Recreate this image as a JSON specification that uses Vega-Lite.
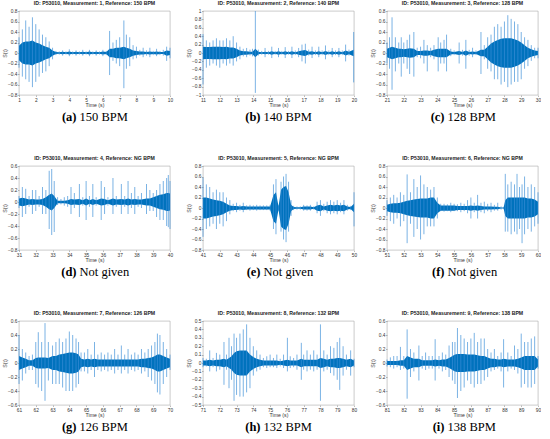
{
  "$schema": "https://vega.github.io/schema/vega-lite/v6.json",
  "padding": {"left": 1, "top": 1, "right": 0, "bottom": 0},
  "background": "white",
  "config": {
    "view": {"stroke": "#a6a6a6", "strokeWidth": 0.6},
    "axis": {"grid": false, "domain": false, "tickSize": 1.5, "tickWidth": 0.5, "tickColor": "#777", "labelFontSize": 4.8, "labelFont": "Liberation Sans", "labelColor": "#333", "labelPadding": 0.5, "labelFlush": false, "labelOverlap": false, "labelBound": false, "format": "~r", "titleFontSize": 5.2, "titleFont": "Liberation Sans", "titleFontWeight": "normal", "titleColor": "#333", "titlePadding": 0.5},
    "title": {"fontSize": 5.2, "font": "Liberation Sans", "fontWeight": "bold", "color": "#222", "offset": 1.5, "anchor": "middle"},
    "area": {"color": "#0072BD"},
    "rule": {"color": "#3a8dd6", "opacity": 0.75, "strokeWidth": 0.9}
  },
  "datasets": {
    "p1": [
      {"t":1.0,"h":0.3,"l":-0.28,"c":0.14,"d":-0.14},{"t":1.2,"h":0.45,"l":-0.45,"c":0.2,"d":-0.2},{"t":1.4,"h":0.62,"l":-0.5,"c":0.22,"d":-0.22},{"t":1.6,"h":0.5,"l":-0.55,"c":0.22,"d":-0.22},{"t":1.8,"h":0.68,"l":-0.65,"c":0.24,"d":-0.24},{"t":2.0,"h":0.55,"l":-0.55,"c":0.2,"d":-0.2},{"t":2.2,"h":0.45,"l":-0.45,"c":0.18,"d":-0.18},{"t":2.4,"h":0.35,"l":-0.38,"c":0.15,"d":-0.15},{"t":2.6,"h":0.3,"l":-0.35,"c":0.12,"d":-0.12},{"t":2.8,"h":0.22,"l":-0.25,"c":0.1,"d":-0.1},
      {"t":3.0,"h":0.1,"l":-0.12,"c":0.05,"d":-0.05},{"t":3.2,"h":0.04,"l":-0.04,"c":0.02,"d":-0.02},{"t":3.4,"h":0.03,"l":-0.03,"c":0.015,"d":-0.015},{"t":3.6,"h":0.05,"l":-0.05,"c":0.025,"d":-0.025},{"t":3.8,"h":0.03,"l":-0.03,"c":0.015,"d":-0.015},{"t":4.0,"h":0.07,"l":-0.06,"c":0.03,"d":-0.03},{"t":4.2,"h":0.03,"l":-0.03,"c":0.015,"d":-0.015},{"t":4.4,"h":0.05,"l":-0.05,"c":0.025,"d":-0.025},{"t":4.6,"h":0.03,"l":-0.03,"c":0.015,"d":-0.015},{"t":4.8,"h":0.06,"l":-0.05,"c":0.025,"d":-0.025},
      {"t":5.0,"h":0.03,"l":-0.03,"c":0.015,"d":-0.015},{"t":5.2,"h":0.06,"l":-0.06,"c":0.03,"d":-0.03},{"t":5.4,"h":0.03,"l":-0.03,"c":0.015,"d":-0.015},{"t":5.6,"h":0.05,"l":-0.05,"c":0.025,"d":-0.025},{"t":5.8,"h":0.03,"l":-0.03,"c":0.015,"d":-0.015},{"t":6.0,"h":0.06,"l":-0.06,"c":0.03,"d":-0.03},{"t":6.2,"h":0.04,"l":-0.04,"c":0.02,"d":-0.02},{"t":6.4,"h":0.42,"l":-0.42,"c":0.08,"d":-0.08},{"t":6.6,"h":0.2,"l":-0.15,"c":0.08,"d":-0.08},{"t":6.8,"h":0.25,"l":-0.2,"c":0.1,"d":-0.1},
      {"t":7.0,"h":0.3,"l":-0.25,"c":0.1,"d":-0.1},{"t":7.25,"h":0.62,"l":-0.67,"c":0.12,"d":-0.12},{"t":7.4,"h":0.35,"l":-0.3,"c":0.1,"d":-0.1},{"t":7.6,"h":0.3,"l":-0.25,"c":0.08,"d":-0.08},{"t":7.8,"h":0.15,"l":-0.12,"c":0.05,"d":-0.05},{"t":8.0,"h":0.12,"l":-0.1,"c":0.04,"d":-0.04},{"t":8.2,"h":0.06,"l":-0.05,"c":0.03,"d":-0.03},{"t":8.4,"h":0.1,"l":-0.08,"c":0.03,"d":-0.03},{"t":8.6,"h":0.05,"l":-0.05,"c":0.02,"d":-0.02},{"t":8.8,"h":0.1,"l":-0.08,"c":0.03,"d":-0.03},
      {"t":9.0,"h":0.04,"l":-0.04,"c":0.02,"d":-0.02},{"t":9.2,"h":0.08,"l":-0.06,"c":0.03,"d":-0.03},{"t":9.4,"h":0.04,"l":-0.04,"c":0.02,"d":-0.02},{"t":9.6,"h":0.06,"l":-0.05,"c":0.02,"d":-0.02},{"t":9.8,"h":0.12,"l":-0.15,"c":0.05,"d":-0.05},{"t":10.0,"h":0.1,"l":-0.1,"c":0.04,"d":-0.04}
    ],
    "p2": [
      {"t":11.0,"h":0.45,"l":-0.75,"c":0.15,"d":-0.15},{"t":11.2,"h":0.3,"l":-0.35,"c":0.14,"d":-0.14},{"t":11.4,"h":0.25,"l":-0.3,"c":0.14,"d":-0.14},{"t":11.6,"h":0.3,"l":-0.25,"c":0.15,"d":-0.15},{"t":11.8,"h":0.35,"l":-0.3,"c":0.15,"d":-0.15},{"t":12.0,"h":0.3,"l":-0.35,"c":0.15,"d":-0.15},{"t":12.2,"h":0.3,"l":-0.25,"c":0.14,"d":-0.14},{"t":12.4,"h":0.35,"l":-0.3,"c":0.15,"d":-0.15},{"t":12.6,"h":0.3,"l":-0.25,"c":0.13,"d":-0.13},{"t":12.8,"h":0.4,"l":-0.3,"c":0.13,"d":-0.13},
      {"t":13.0,"h":0.25,"l":-0.2,"c":0.1,"d":-0.1},{"t":13.2,"h":0.15,"l":-0.15,"c":0.06,"d":-0.06},{"t":13.4,"h":0.1,"l":-0.08,"c":0.04,"d":-0.04},{"t":13.6,"h":0.12,"l":-0.1,"c":0.04,"d":-0.04},{"t":13.8,"h":0.08,"l":-0.06,"c":0.03,"d":-0.03},{"t":13.95,"h":0.1,"l":-0.08,"c":0.03,"d":-0.03},{"t":14.12,"h":1.0,"l":-0.95,"c":0.1,"d":-0.1},{"t":14.3,"h":0.08,"l":-0.06,"c":0.03,"d":-0.03},{"t":14.5,"h":0.05,"l":-0.04,"c":0.02,"d":-0.02},{"t":14.7,"h":0.12,"l":-0.1,"c":0.03,"d":-0.03},
      {"t":14.9,"h":0.05,"l":-0.04,"c":0.02,"d":-0.02},{"t":15.1,"h":0.15,"l":-0.12,"c":0.04,"d":-0.04},{"t":15.3,"h":0.05,"l":-0.04,"c":0.02,"d":-0.02},{"t":15.5,"h":0.12,"l":-0.1,"c":0.04,"d":-0.04},{"t":15.7,"h":0.05,"l":-0.04,"c":0.02,"d":-0.02},{"t":15.9,"h":0.14,"l":-0.12,"c":0.04,"d":-0.04},{"t":16.1,"h":0.05,"l":-0.04,"c":0.02,"d":-0.02},{"t":16.3,"h":0.15,"l":-0.12,"c":0.04,"d":-0.04},{"t":16.5,"h":0.06,"l":-0.05,"c":0.02,"d":-0.02},{"t":16.7,"h":0.12,"l":-0.1,"c":0.04,"d":-0.04},
      {"t":16.9,"h":0.2,"l":-0.2,"c":0.06,"d":-0.06},{"t":17.1,"h":0.22,"l":-0.25,"c":0.07,"d":-0.07},{"t":17.3,"h":0.08,"l":-0.06,"c":0.03,"d":-0.03},{"t":17.5,"h":0.15,"l":-0.12,"c":0.04,"d":-0.04},{"t":17.7,"h":0.06,"l":-0.05,"c":0.02,"d":-0.02},{"t":17.9,"h":0.15,"l":-0.1,"c":0.04,"d":-0.04},{"t":18.1,"h":0.06,"l":-0.05,"c":0.02,"d":-0.02},{"t":18.3,"h":0.18,"l":-0.15,"c":0.05,"d":-0.05},{"t":18.5,"h":0.06,"l":-0.05,"c":0.02,"d":-0.02},{"t":18.7,"h":0.12,"l":-0.1,"c":0.04,"d":-0.04},
      {"t":18.9,"h":0.06,"l":-0.05,"c":0.02,"d":-0.02},{"t":19.1,"h":0.12,"l":-0.1,"c":0.04,"d":-0.04},{"t":19.3,"h":0.06,"l":-0.05,"c":0.02,"d":-0.02},{"t":19.5,"h":0.2,"l":-0.2,"c":0.06,"d":-0.06},{"t":19.7,"h":0.08,"l":-0.06,"c":0.03,"d":-0.03},{"t":19.98,"h":0.5,"l":-0.7,"c":0.08,"d":-0.08}
    ],
    "p3": [
      {"t":21.0,"h":0.2,"l":-0.2,"c":0.08,"d":-0.08},{"t":21.15,"h":0.3,"l":-0.3,"c":0.1,"d":-0.1},{"t":21.3,"h":0.68,"l":-0.7,"c":0.12,"d":-0.12},{"t":21.5,"h":0.3,"l":-0.35,"c":0.1,"d":-0.1},{"t":21.7,"h":0.2,"l":-0.2,"c":0.08,"d":-0.08},{"t":21.85,"h":0.3,"l":-0.45,"c":0.08,"d":-0.08},{"t":22.0,"h":0.2,"l":-0.2,"c":0.07,"d":-0.07},{"t":22.2,"h":0.25,"l":-0.3,"c":0.08,"d":-0.08},{"t":22.35,"h":0.35,"l":-0.4,"c":0.09,"d":-0.09},{"t":22.6,"h":0.4,"l":-0.45,"c":0.08,"d":-0.08},
      {"t":22.8,"h":0.1,"l":-0.08,"c":0.04,"d":-0.04},{"t":23.0,"h":0.12,"l":-0.1,"c":0.04,"d":-0.04},{"t":23.2,"h":0.25,"l":-0.2,"c":0.05,"d":-0.05},{"t":23.4,"h":0.15,"l":-0.35,"c":0.05,"d":-0.05},{"t":23.6,"h":0.1,"l":-0.08,"c":0.04,"d":-0.04},{"t":23.8,"h":0.15,"l":-0.12,"c":0.06,"d":-0.06},{"t":24.05,"h":0.3,"l":-0.35,"c":0.08,"d":-0.08},{"t":24.2,"h":0.2,"l":-0.2,"c":0.08,"d":-0.08},{"t":24.4,"h":0.25,"l":-0.2,"c":0.08,"d":-0.08},{"t":24.55,"h":0.35,"l":-0.35,"c":0.08,"d":-0.08},
      {"t":24.8,"h":0.08,"l":-0.06,"c":0.03,"d":-0.03},{"t":25.0,"h":0.05,"l":-0.04,"c":0.02,"d":-0.02},{"t":25.3,"h":0.2,"l":-0.2,"c":0.04,"d":-0.04},{"t":25.5,"h":0.06,"l":-0.05,"c":0.02,"d":-0.02},{"t":25.7,"h":0.25,"l":-0.3,"c":0.05,"d":-0.05},{"t":25.9,"h":0.06,"l":-0.05,"c":0.02,"d":-0.02},{"t":26.1,"h":0.1,"l":-0.08,"c":0.03,"d":-0.03},{"t":26.3,"h":0.05,"l":-0.04,"c":0.02,"d":-0.02},{"t":26.6,"h":0.4,"l":-0.4,"c":0.06,"d":-0.06},{"t":26.8,"h":0.15,"l":-0.12,"c":0.06,"d":-0.06},
      {"t":27.0,"h":0.3,"l":-0.3,"c":0.12,"d":-0.12},{"t":27.2,"h":0.35,"l":-0.35,"c":0.18,"d":-0.18},{"t":27.4,"h":0.5,"l":-0.5,"c":0.22,"d":-0.22},{"t":27.6,"h":0.55,"l":-0.5,"c":0.25,"d":-0.25},{"t":27.8,"h":0.5,"l":-0.6,"c":0.27,"d":-0.27},{"t":28.0,"h":0.6,"l":-0.55,"c":0.28,"d":-0.28},{"t":28.2,"h":0.72,"l":-0.65,"c":0.28,"d":-0.28},{"t":28.4,"h":0.65,"l":-0.6,"c":0.28,"d":-0.28},{"t":28.6,"h":0.6,"l":-0.55,"c":0.26,"d":-0.26},{"t":28.8,"h":0.55,"l":-0.55,"c":0.24,"d":-0.24},
      {"t":29.0,"h":0.4,"l":-0.5,"c":0.2,"d":-0.2},{"t":29.2,"h":0.3,"l":-0.3,"c":0.15,"d":-0.15},{"t":29.4,"h":0.25,"l":-0.25,"c":0.1,"d":-0.1},{"t":29.6,"h":0.15,"l":-0.15,"c":0.07,"d":-0.07},{"t":29.8,"h":0.1,"l":-0.1,"c":0.05,"d":-0.05},{"t":30.0,"h":0.1,"l":-0.1,"c":0.04,"d":-0.04}
    ],
    "p4": [
      {"t":31.0,"h":0.1,"l":-0.1,"c":0.06,"d":-0.06},{"t":31.2,"h":0.25,"l":-0.25,"c":0.07,"d":-0.07},{"t":31.4,"h":0.22,"l":-0.2,"c":0.06,"d":-0.06},{"t":31.6,"h":0.1,"l":-0.08,"c":0.04,"d":-0.04},{"t":31.8,"h":0.2,"l":-0.2,"c":0.05,"d":-0.05},{"t":32.0,"h":0.2,"l":-0.15,"c":0.04,"d":-0.04},{"t":32.2,"h":0.1,"l":-0.08,"c":0.04,"d":-0.04},{"t":32.4,"h":0.25,"l":-0.2,"c":0.05,"d":-0.05},{"t":32.6,"h":0.2,"l":-0.2,"c":0.08,"d":-0.08},{"t":32.8,"h":0.52,"l":-0.45,"c":0.12,"d":-0.12},
      {"t":32.95,"h":0.55,"l":-0.55,"c":0.14,"d":-0.14},{"t":33.1,"h":0.35,"l":-0.5,"c":0.1,"d":-0.1},{"t":33.3,"h":0.08,"l":-0.05,"c":0.02,"d":-0.02},{"t":33.5,"h":0.05,"l":-0.04,"c":0.02,"d":-0.02},{"t":33.7,"h":0.08,"l":-0.06,"c":0.02,"d":-0.02},{"t":33.9,"h":0.1,"l":-0.08,"c":0.03,"d":-0.03},{"t":34.1,"h":0.25,"l":-0.2,"c":0.05,"d":-0.05},{"t":34.3,"h":0.15,"l":-0.1,"c":0.04,"d":-0.04},{"t":34.6,"h":0.3,"l":-0.25,"c":0.05,"d":-0.05},{"t":34.8,"h":0.08,"l":-0.06,"c":0.03,"d":-0.03},
      {"t":35.0,"h":0.35,"l":-0.3,"c":0.06,"d":-0.06},{"t":35.2,"h":0.1,"l":-0.08,"c":0.03,"d":-0.03},{"t":35.4,"h":0.3,"l":-0.25,"c":0.05,"d":-0.05},{"t":35.6,"h":0.08,"l":-0.06,"c":0.03,"d":-0.03},{"t":35.9,"h":0.35,"l":-0.3,"c":0.06,"d":-0.06},{"t":36.1,"h":0.25,"l":-0.2,"c":0.05,"d":-0.05},{"t":36.3,"h":0.08,"l":-0.06,"c":0.03,"d":-0.03},{"t":36.6,"h":0.4,"l":-0.2,"c":0.06,"d":-0.06},{"t":36.8,"h":0.1,"l":-0.08,"c":0.04,"d":-0.04},{"t":37.1,"h":0.3,"l":-0.2,"c":0.05,"d":-0.05},
      {"t":37.3,"h":0.1,"l":-0.08,"c":0.04,"d":-0.04},{"t":37.5,"h":0.35,"l":-0.2,"c":0.06,"d":-0.06},{"t":37.7,"h":0.15,"l":-0.1,"c":0.04,"d":-0.04},{"t":37.9,"h":0.25,"l":-0.2,"c":0.05,"d":-0.05},{"t":38.1,"h":0.1,"l":-0.08,"c":0.04,"d":-0.04},{"t":38.3,"h":0.15,"l":-0.1,"c":0.04,"d":-0.04},{"t":38.6,"h":0.3,"l":-0.2,"c":0.06,"d":-0.06},{"t":38.8,"h":0.2,"l":-0.15,"c":0.06,"d":-0.06},{"t":39.0,"h":0.15,"l":-0.15,"c":0.08,"d":-0.08},{"t":39.2,"h":0.2,"l":-0.25,"c":0.1,"d":-0.1},
      {"t":39.4,"h":0.3,"l":-0.3,"c":0.12,"d":-0.12},{"t":39.6,"h":0.35,"l":-0.3,"c":0.13,"d":-0.13},{"t":39.8,"h":0.4,"l":-0.4,"c":0.15,"d":-0.15},{"t":39.9,"h":0.45,"l":-0.42,"c":0.15,"d":-0.15},{"t":40.0,"h":0.35,"l":-0.45,"c":0.14,"d":-0.14}
    ],
    "p5": [
      {"t":41.0,"h":0.58,"l":-0.55,"c":0.2,"d":-0.2},{"t":41.2,"h":0.45,"l":-0.4,"c":0.2,"d":-0.2},{"t":41.4,"h":0.4,"l":-0.35,"c":0.18,"d":-0.18},{"t":41.6,"h":0.3,"l":-0.3,"c":0.16,"d":-0.16},{"t":41.8,"h":0.35,"l":-0.4,"c":0.15,"d":-0.15},{"t":42.0,"h":0.3,"l":-0.3,"c":0.14,"d":-0.14},{"t":42.2,"h":0.3,"l":-0.35,"c":0.12,"d":-0.12},{"t":42.4,"h":0.2,"l":-0.25,"c":0.08,"d":-0.08},{"t":42.6,"h":0.15,"l":-0.12,"c":0.05,"d":-0.05},{"t":42.8,"h":0.08,"l":-0.06,"c":0.04,"d":-0.04},
      {"t":43.0,"h":0.1,"l":-0.08,"c":0.04,"d":-0.04},{"t":43.2,"h":0.06,"l":-0.05,"c":0.03,"d":-0.03},{"t":43.4,"h":0.1,"l":-0.08,"c":0.04,"d":-0.04},{"t":43.6,"h":0.05,"l":-0.04,"c":0.03,"d":-0.03},{"t":43.8,"h":0.06,"l":-0.05,"c":0.03,"d":-0.03},{"t":44.0,"h":0.05,"l":-0.04,"c":0.03,"d":-0.03},{"t":44.2,"h":0.06,"l":-0.05,"c":0.03,"d":-0.03},{"t":44.4,"h":0.05,"l":-0.04,"c":0.03,"d":-0.03},{"t":44.6,"h":0.05,"l":-0.04,"c":0.03,"d":-0.03},{"t":44.8,"h":0.05,"l":-0.04,"c":0.03,"d":-0.03},
      {"t":45.0,"h":0.06,"l":-0.05,"c":0.03,"d":-0.03},{"t":45.2,"h":0.45,"l":-0.4,"c":0.25,"d":-0.25},{"t":45.35,"h":0.55,"l":-0.5,"c":0.3,"d":-0.3},{"t":45.5,"h":0.05,"l":-0.05,"c":0.03,"d":-0.03},{"t":45.65,"h":0.5,"l":-0.45,"c":0.35,"d":-0.35},{"t":45.8,"h":0.6,"l":-0.6,"c":0.4,"d":-0.4},{"t":45.95,"h":0.65,"l":-0.65,"c":0.42,"d":-0.42},{"t":46.1,"h":0.5,"l":-0.45,"c":0.3,"d":-0.3},{"t":46.25,"h":0.15,"l":-0.15,"c":0.06,"d":-0.06},{"t":46.4,"h":0.04,"l":-0.04,"c":0.02,"d":-0.02},
      {"t":46.6,"h":0.03,"l":-0.03,"c":0.015,"d":-0.015},{"t":46.8,"h":0.03,"l":-0.03,"c":0.015,"d":-0.015},{"t":47.0,"h":0.06,"l":-0.05,"c":0.03,"d":-0.03},{"t":47.2,"h":0.05,"l":-0.05,"c":0.03,"d":-0.03},{"t":47.4,"h":0.06,"l":-0.05,"c":0.03,"d":-0.03},{"t":47.6,"h":0.03,"l":-0.03,"c":0.015,"d":-0.015},{"t":47.8,"h":0.12,"l":-0.1,"c":0.05,"d":-0.05},{"t":48.0,"h":0.15,"l":-0.15,"c":0.06,"d":-0.06},{"t":48.2,"h":0.08,"l":-0.06,"c":0.03,"d":-0.03},{"t":48.4,"h":0.12,"l":-0.1,"c":0.05,"d":-0.05},
      {"t":48.6,"h":0.15,"l":-0.12,"c":0.06,"d":-0.06},{"t":48.8,"h":0.12,"l":-0.1,"c":0.05,"d":-0.05},{"t":49.0,"h":0.15,"l":-0.12,"c":0.06,"d":-0.06},{"t":49.2,"h":0.1,"l":-0.08,"c":0.05,"d":-0.05},{"t":49.4,"h":0.15,"l":-0.12,"c":0.06,"d":-0.06},{"t":49.6,"h":0.06,"l":-0.05,"c":0.03,"d":-0.03},{"t":49.8,"h":0.04,"l":-0.04,"c":0.02,"d":-0.02},{"t":50.0,"h":0.3,"l":-0.35,"c":0.08,"d":-0.08}
    ],
    "p6": [
      {"t":51.0,"h":0.15,"l":-0.15,"c":0.06,"d":-0.06},{"t":51.2,"h":0.2,"l":-0.25,"c":0.08,"d":-0.08},{"t":51.4,"h":0.25,"l":-0.3,"c":0.09,"d":-0.09},{"t":51.6,"h":0.2,"l":-0.2,"c":0.09,"d":-0.09},{"t":51.8,"h":0.3,"l":-0.35,"c":0.1,"d":-0.1},{"t":52.0,"h":0.25,"l":-0.25,"c":0.12,"d":-0.12},{"t":52.2,"h":0.64,"l":-0.67,"c":0.14,"d":-0.14},{"t":52.4,"h":0.3,"l":-0.3,"c":0.15,"d":-0.15},{"t":52.6,"h":0.55,"l":-0.55,"c":0.16,"d":-0.16},{"t":52.8,"h":0.4,"l":-0.4,"c":0.17,"d":-0.17},
      {"t":53.0,"h":0.62,"l":-0.6,"c":0.18,"d":-0.18},{"t":53.2,"h":0.45,"l":-0.5,"c":0.18,"d":-0.18},{"t":53.4,"h":0.4,"l":-0.35,"c":0.18,"d":-0.18},{"t":53.6,"h":0.35,"l":-0.35,"c":0.2,"d":-0.2},{"t":53.8,"h":0.4,"l":-0.35,"c":0.2,"d":-0.2},{"t":54.0,"h":0.2,"l":-0.2,"c":0.1,"d":-0.1},{"t":54.2,"h":0.08,"l":-0.06,"c":0.05,"d":-0.05},{"t":54.4,"h":0.08,"l":-0.07,"c":0.05,"d":-0.05},{"t":54.6,"h":0.07,"l":-0.06,"c":0.05,"d":-0.05},{"t":54.8,"h":0.1,"l":-0.08,"c":0.05,"d":-0.05},
      {"t":55.0,"h":0.08,"l":-0.06,"c":0.05,"d":-0.05},{"t":55.2,"h":0.07,"l":-0.06,"c":0.04,"d":-0.04},{"t":55.4,"h":0.1,"l":-0.08,"c":0.04,"d":-0.04},{"t":55.6,"h":0.08,"l":-0.06,"c":0.04,"d":-0.04},{"t":55.8,"h":0.15,"l":-0.1,"c":0.04,"d":-0.04},{"t":56.0,"h":0.2,"l":-0.2,"c":0.05,"d":-0.05},{"t":56.2,"h":0.1,"l":-0.08,"c":0.04,"d":-0.04},{"t":56.4,"h":0.25,"l":-0.2,"c":0.05,"d":-0.05},{"t":56.6,"h":0.1,"l":-0.08,"c":0.04,"d":-0.04},{"t":56.8,"h":0.12,"l":-0.1,"c":0.03,"d":-0.03},
      {"t":57.0,"h":0.08,"l":-0.06,"c":0.03,"d":-0.03},{"t":57.2,"h":0.1,"l":-0.08,"c":0.03,"d":-0.03},{"t":57.4,"h":0.06,"l":-0.05,"c":0.025,"d":-0.025},{"t":57.6,"h":0.1,"l":-0.05,"c":0.025,"d":-0.025},{"t":57.8,"h":0.03,"l":-0.03,"c":0.01,"d":-0.01},{"t":57.95,"h":0.02,"l":-0.02,"c":0.01,"d":-0.01},{"t":58.05,"h":0.65,"l":-0.45,"c":0.15,"d":-0.15},{"t":58.2,"h":0.45,"l":-0.45,"c":0.2,"d":-0.2},{"t":58.4,"h":0.5,"l":-0.5,"c":0.2,"d":-0.2},{"t":58.6,"h":0.45,"l":-0.45,"c":0.2,"d":-0.2},
      {"t":58.75,"h":0.65,"l":-0.5,"c":0.2,"d":-0.2},{"t":58.9,"h":0.4,"l":-0.4,"c":0.2,"d":-0.2},{"t":59.05,"h":0.45,"l":-0.67,"c":0.2,"d":-0.2},{"t":59.2,"h":0.6,"l":-0.5,"c":0.2,"d":-0.2},{"t":59.4,"h":0.4,"l":-0.4,"c":0.18,"d":-0.18},{"t":59.6,"h":0.45,"l":-0.45,"c":0.18,"d":-0.18},{"t":59.8,"h":0.4,"l":-0.35,"c":0.16,"d":-0.16},{"t":60.0,"h":0.3,"l":-0.3,"c":0.12,"d":-0.12}
    ],
    "p7": [
      {"t":61.0,"h":0.4,"l":-0.3,"c":0.1,"d":-0.1},{"t":61.2,"h":0.2,"l":-0.25,"c":0.08,"d":-0.08},{"t":61.4,"h":0.15,"l":-0.15,"c":0.06,"d":-0.06},{"t":61.6,"h":0.1,"l":-0.1,"c":0.04,"d":-0.04},{"t":61.8,"h":0.12,"l":-0.1,"c":0.04,"d":-0.04},{"t":62.0,"h":0.3,"l":-0.3,"c":0.07,"d":-0.07},{"t":62.15,"h":0.44,"l":-0.35,"c":0.08,"d":-0.08},{"t":62.35,"h":0.3,"l":-0.4,"c":0.08,"d":-0.08},{"t":62.55,"h":0.57,"l":-0.54,"c":0.08,"d":-0.08},{"t":62.75,"h":0.3,"l":-0.25,"c":0.07,"d":-0.07},
      {"t":63.0,"h":0.25,"l":-0.3,"c":0.1,"d":-0.1},{"t":63.2,"h":0.3,"l":-0.3,"c":0.1,"d":-0.1},{"t":63.4,"h":0.35,"l":-0.3,"c":0.12,"d":-0.12},{"t":63.6,"h":0.3,"l":-0.35,"c":0.13,"d":-0.13},{"t":63.8,"h":0.35,"l":-0.4,"c":0.14,"d":-0.14},{"t":64.0,"h":0.45,"l":-0.4,"c":0.15,"d":-0.15},{"t":64.2,"h":0.4,"l":-0.4,"c":0.15,"d":-0.15},{"t":64.4,"h":0.35,"l":-0.35,"c":0.14,"d":-0.14},{"t":64.55,"h":0.3,"l":-0.3,"c":0.12,"d":-0.12},{"t":64.7,"h":0.15,"l":-0.12,"c":0.06,"d":-0.06},
      {"t":64.9,"h":0.15,"l":-0.12,"c":0.05,"d":-0.05},{"t":65.1,"h":0.2,"l":-0.15,"c":0.06,"d":-0.06},{"t":65.3,"h":0.12,"l":-0.1,"c":0.05,"d":-0.05},{"t":65.5,"h":0.3,"l":-0.2,"c":0.06,"d":-0.06},{"t":65.7,"h":0.12,"l":-0.1,"c":0.05,"d":-0.05},{"t":65.9,"h":0.15,"l":-0.12,"c":0.05,"d":-0.05},{"t":66.1,"h":0.12,"l":-0.1,"c":0.05,"d":-0.05},{"t":66.3,"h":0.15,"l":-0.12,"c":0.05,"d":-0.05},{"t":66.5,"h":0.12,"l":-0.1,"c":0.05,"d":-0.05},{"t":66.7,"h":0.2,"l":-0.15,"c":0.05,"d":-0.05},
      {"t":66.9,"h":0.12,"l":-0.1,"c":0.05,"d":-0.05},{"t":67.1,"h":0.25,"l":-0.15,"c":0.05,"d":-0.05},{"t":67.3,"h":0.12,"l":-0.1,"c":0.05,"d":-0.05},{"t":67.5,"h":0.2,"l":-0.15,"c":0.05,"d":-0.05},{"t":67.7,"h":0.12,"l":-0.1,"c":0.05,"d":-0.05},{"t":67.9,"h":0.15,"l":-0.12,"c":0.05,"d":-0.05},{"t":68.1,"h":0.12,"l":-0.1,"c":0.05,"d":-0.05},{"t":68.3,"h":0.2,"l":-0.15,"c":0.06,"d":-0.06},{"t":68.5,"h":0.15,"l":-0.12,"c":0.06,"d":-0.06},{"t":68.7,"h":0.2,"l":-0.2,"c":0.07,"d":-0.07},
      {"t":68.9,"h":0.25,"l":-0.25,"c":0.08,"d":-0.08},{"t":69.1,"h":0.3,"l":-0.3,"c":0.1,"d":-0.1},{"t":69.25,"h":0.42,"l":-0.42,"c":0.12,"d":-0.12},{"t":69.4,"h":0.4,"l":-0.45,"c":0.12,"d":-0.12},{"t":69.6,"h":0.3,"l":-0.3,"c":0.1,"d":-0.1},{"t":69.8,"h":0.2,"l":-0.2,"c":0.08,"d":-0.08},{"t":70.0,"h":0.12,"l":-0.1,"c":0.06,"d":-0.06}
    ],
    "p8": [
      {"t":71.0,"h":0.06,"l":-0.05,"c":0.03,"d":-0.03},{"t":71.2,"h":0.05,"l":-0.04,"c":0.03,"d":-0.03},{"t":71.4,"h":0.15,"l":-0.1,"c":0.04,"d":-0.04},{"t":71.6,"h":0.06,"l":-0.05,"c":0.03,"d":-0.03},{"t":71.8,"h":0.12,"l":-0.1,"c":0.04,"d":-0.04},{"t":72.0,"h":0.1,"l":-0.08,"c":0.04,"d":-0.04},{"t":72.25,"h":0.25,"l":-0.26,"c":0.05,"d":-0.05},{"t":72.4,"h":0.1,"l":-0.08,"c":0.04,"d":-0.04},{"t":72.55,"h":0.3,"l":-0.3,"c":0.06,"d":-0.06},{"t":72.7,"h":0.2,"l":-0.2,"c":0.08,"d":-0.08},
      {"t":72.85,"h":0.35,"l":-0.45,"c":0.12,"d":-0.12},{"t":73.0,"h":0.3,"l":-0.38,"c":0.14,"d":-0.14},{"t":73.2,"h":0.35,"l":-0.4,"c":0.15,"d":-0.15},{"t":73.4,"h":0.4,"l":-0.4,"c":0.15,"d":-0.15},{"t":73.6,"h":0.46,"l":-0.35,"c":0.15,"d":-0.15},{"t":73.8,"h":0.3,"l":-0.3,"c":0.1,"d":-0.1},{"t":74.0,"h":0.2,"l":-0.15,"c":0.07,"d":-0.07},{"t":74.2,"h":0.15,"l":-0.1,"c":0.05,"d":-0.05},{"t":74.4,"h":0.1,"l":-0.08,"c":0.04,"d":-0.04},{"t":74.6,"h":0.06,"l":-0.05,"c":0.03,"d":-0.03},
      {"t":74.8,"h":0.08,"l":-0.06,"c":0.03,"d":-0.03},{"t":75.0,"h":0.1,"l":-0.05,"c":0.03,"d":-0.03},{"t":75.2,"h":0.06,"l":-0.05,"c":0.03,"d":-0.03},{"t":75.4,"h":0.1,"l":-0.06,"c":0.03,"d":-0.03},{"t":75.6,"h":0.05,"l":-0.04,"c":0.02,"d":-0.02},{"t":75.8,"h":0.1,"l":-0.06,"c":0.03,"d":-0.03},{"t":76.03,"h":0.3,"l":-0.1,"c":0.04,"d":-0.04},{"t":76.2,"h":0.08,"l":-0.06,"c":0.03,"d":-0.03},{"t":76.4,"h":0.06,"l":-0.05,"c":0.03,"d":-0.03},{"t":76.6,"h":0.1,"l":-0.08,"c":0.03,"d":-0.03},
      {"t":76.86,"h":0.24,"l":-0.2,"c":0.05,"d":-0.05},{"t":77.0,"h":0.1,"l":-0.08,"c":0.04,"d":-0.04},{"t":77.2,"h":0.15,"l":-0.1,"c":0.04,"d":-0.04},{"t":77.4,"h":0.1,"l":-0.08,"c":0.04,"d":-0.04},{"t":77.6,"h":0.15,"l":-0.1,"c":0.04,"d":-0.04},{"t":77.8,"h":0.1,"l":-0.08,"c":0.04,"d":-0.04},{"t":78.0,"h":0.46,"l":-0.45,"c":0.06,"d":-0.06},{"t":78.2,"h":0.15,"l":-0.1,"c":0.05,"d":-0.05},{"t":78.4,"h":0.1,"l":-0.08,"c":0.04,"d":-0.04},{"t":78.6,"h":0.2,"l":-0.12,"c":0.05,"d":-0.05},
      {"t":78.8,"h":0.18,"l":-0.15,"c":0.05,"d":-0.05},{"t":79.0,"h":0.25,"l":-0.2,"c":0.06,"d":-0.06},{"t":79.15,"h":0.3,"l":-0.32,"c":0.06,"d":-0.06},{"t":79.35,"h":0.2,"l":-0.15,"c":0.05,"d":-0.05},{"t":79.55,"h":0.1,"l":-0.08,"c":0.04,"d":-0.04},{"t":79.8,"h":0.15,"l":-0.15,"c":0.05,"d":-0.05},{"t":80.0,"h":0.05,"l":-0.05,"c":0.03,"d":-0.03}
    ],
    "p9": [
      {"t":81.0,"h":0.05,"l":-0.05,"c":0.03,"d":-0.03},{"t":81.2,"h":0.08,"l":-0.06,"c":0.03,"d":-0.03},{"t":81.4,"h":0.1,"l":-0.08,"c":0.03,"d":-0.03},{"t":81.6,"h":0.1,"l":-0.06,"c":0.03,"d":-0.03},{"t":81.8,"h":0.23,"l":-0.1,"c":0.04,"d":-0.04},{"t":82.0,"h":0.1,"l":-0.08,"c":0.04,"d":-0.04},{"t":82.2,"h":0.48,"l":-0.51,"c":0.1,"d":-0.1},{"t":82.4,"h":0.2,"l":-0.2,"c":0.08,"d":-0.08},{"t":82.6,"h":0.15,"l":-0.12,"c":0.06,"d":-0.06},{"t":82.9,"h":0.25,"l":-0.25,"c":0.06,"d":-0.06},
      {"t":83.1,"h":0.1,"l":-0.08,"c":0.04,"d":-0.04},{"t":83.3,"h":0.15,"l":-0.1,"c":0.04,"d":-0.04},{"t":83.5,"h":0.1,"l":-0.08,"c":0.04,"d":-0.04},{"t":83.7,"h":0.1,"l":-0.08,"c":0.04,"d":-0.04},{"t":83.87,"h":0.34,"l":-0.25,"c":0.05,"d":-0.05},{"t":84.1,"h":0.1,"l":-0.08,"c":0.04,"d":-0.04},{"t":84.3,"h":0.15,"l":-0.12,"c":0.05,"d":-0.05},{"t":84.5,"h":0.12,"l":-0.1,"c":0.05,"d":-0.05},{"t":84.7,"h":0.25,"l":-0.2,"c":0.07,"d":-0.07},{"t":84.9,"h":0.3,"l":-0.25,"c":0.1,"d":-0.1},
      {"t":85.05,"h":0.3,"l":-0.3,"c":0.12,"d":-0.12},{"t":85.2,"h":0.5,"l":-0.5,"c":0.13,"d":-0.13},{"t":85.4,"h":0.4,"l":-0.4,"c":0.13,"d":-0.13},{"t":85.6,"h":0.35,"l":-0.35,"c":0.13,"d":-0.13},{"t":85.8,"h":0.3,"l":-0.25,"c":0.12,"d":-0.12},{"t":86.0,"h":0.35,"l":-0.3,"c":0.12,"d":-0.12},{"t":86.2,"h":0.43,"l":-0.35,"c":0.12,"d":-0.12},{"t":86.4,"h":0.3,"l":-0.3,"c":0.11,"d":-0.11},{"t":86.6,"h":0.35,"l":-0.3,"c":0.1,"d":-0.1},{"t":86.8,"h":0.35,"l":-0.25,"c":0.1,"d":-0.1},
      {"t":87.0,"h":0.2,"l":-0.2,"c":0.08,"d":-0.08},{"t":87.2,"h":0.15,"l":-0.12,"c":0.06,"d":-0.06},{"t":87.4,"h":0.2,"l":-0.1,"c":0.06,"d":-0.06},{"t":87.6,"h":0.1,"l":-0.08,"c":0.05,"d":-0.05},{"t":87.8,"h":0.15,"l":-0.12,"c":0.05,"d":-0.05},{"t":87.95,"h":0.34,"l":-0.35,"c":0.06,"d":-0.06},{"t":88.2,"h":0.15,"l":-0.12,"c":0.05,"d":-0.05},{"t":88.4,"h":0.1,"l":-0.08,"c":0.05,"d":-0.05},{"t":88.6,"h":0.25,"l":-0.1,"c":0.05,"d":-0.05},{"t":88.8,"h":0.2,"l":-0.15,"c":0.06,"d":-0.06},
      {"t":89.0,"h":0.42,"l":-0.35,"c":0.08,"d":-0.08},{"t":89.2,"h":0.3,"l":-0.3,"c":0.1,"d":-0.1},{"t":89.4,"h":0.3,"l":-0.35,"c":0.1,"d":-0.1},{"t":89.6,"h":0.35,"l":-0.35,"c":0.1,"d":-0.1},{"t":89.8,"h":0.38,"l":-0.3,"c":0.1,"d":-0.1},{"t":90.0,"h":0.1,"l":-0.08,"c":0.05,"d":-0.05}
    ]
  },
  "columns": 3,
  "spacing": {"row": 32, "column": 12},
  "concat": [
    {"spacing": 2, "vconcat": [
      {"title": "ID: P53010, Measurement: 1, Reference: 150 BPM", "width": 151, "height": 84, "data": {"name": "p1"},
       "encoding": {"x": {"field": "t", "type": "quantitative", "title": "Time (s)", "scale": {"domain": [1, 10], "nice": false, "zero": false}, "axis": {"values": [1, 2, 3, 4, 5, 6, 7, 8, 9, 10]}}},
       "layer": [
        {"mark": "area", "encoding": {"y": {"field": "c", "type": "quantitative", "title": "S(t)", "scale": {"domain": [-0.8, 0.8], "nice": false}, "axis": {"values": [-0.8, -0.6, -0.4, -0.2, 0, 0.2, 0.4, 0.6, 0.8]}}, "y2": {"field": "d"}}},
        {"mark": "rule", "encoding": {"y": {"field": "h", "type": "quantitative", "title": "S(t)", "scale": {"domain": [-0.8, 0.8], "nice": false}, "axis": {"values": [-0.8, -0.6, -0.4, -0.2, 0, 0.2, 0.4, 0.6, 0.8]}}, "y2": {"field": "l"}}}
       ]},
      {"width": 151, "height": 14, "view": {"stroke": null}, "data": {"values": [{"k": "(a)", "v": "150 BPM"}]},
       "layer": [
        {"mark": {"type": "text", "font": "Liberation Serif", "fontSize": 12.5, "fontWeight": "bold", "align": "right", "dx": -18}, "encoding": {"text": {"field": "k"}}},
        {"mark": {"type": "text", "font": "Liberation Serif", "fontSize": 12.5, "align": "left", "dx": -15}, "encoding": {"text": {"field": "v"}}}
       ]}
    ]},
    {"spacing": 2, "vconcat": [
      {"title": "ID: P53010, Measurement: 2, Reference: 140 BPM", "width": 151, "height": 84, "data": {"name": "p2"},
       "encoding": {"x": {"field": "t", "type": "quantitative", "title": "Time (s)", "scale": {"domain": [11, 20], "nice": false, "zero": false}, "axis": {"values": [11, 12, 13, 14, 15, 16, 17, 18, 19, 20]}}},
       "layer": [
        {"mark": "area", "encoding": {"y": {"field": "c", "type": "quantitative", "title": "S(t)", "scale": {"domain": [-1, 1], "nice": false}, "axis": {"values": [-1, -0.8, -0.6, -0.4, -0.2, 0, 0.2, 0.4, 0.6, 0.8, 1]}}, "y2": {"field": "d"}}},
        {"mark": "rule", "encoding": {"y": {"field": "h", "type": "quantitative", "title": "S(t)", "scale": {"domain": [-1, 1], "nice": false}, "axis": {"values": [-1, -0.8, -0.6, -0.4, -0.2, 0, 0.2, 0.4, 0.6, 0.8, 1]}}, "y2": {"field": "l"}}}
       ]},
      {"width": 151, "height": 14, "view": {"stroke": null}, "data": {"values": [{"k": "(b)", "v": "140 BPM"}]},
       "layer": [
        {"mark": {"type": "text", "font": "Liberation Serif", "fontSize": 12.5, "fontWeight": "bold", "align": "right", "dx": -18}, "encoding": {"text": {"field": "k"}}},
        {"mark": {"type": "text", "font": "Liberation Serif", "fontSize": 12.5, "align": "left", "dx": -15}, "encoding": {"text": {"field": "v"}}}
       ]}
    ]},
    {"spacing": 2, "vconcat": [
      {"title": "ID: P53010, Measurement: 3, Reference: 128 BPM", "width": 151, "height": 84, "data": {"name": "p3"},
       "encoding": {"x": {"field": "t", "type": "quantitative", "title": "Time (s)", "scale": {"domain": [21, 30], "nice": false, "zero": false}, "axis": {"values": [21, 22, 23, 24, 25, 26, 27, 28, 29, 30]}}},
       "layer": [
        {"mark": "area", "encoding": {"y": {"field": "c", "type": "quantitative", "title": "S(t)", "scale": {"domain": [-0.8, 0.8], "nice": false}, "axis": {"values": [-0.8, -0.6, -0.4, -0.2, 0, 0.2, 0.4, 0.6, 0.8]}}, "y2": {"field": "d"}}},
        {"mark": "rule", "encoding": {"y": {"field": "h", "type": "quantitative", "title": "S(t)", "scale": {"domain": [-0.8, 0.8], "nice": false}, "axis": {"values": [-0.8, -0.6, -0.4, -0.2, 0, 0.2, 0.4, 0.6, 0.8]}}, "y2": {"field": "l"}}}
       ]},
      {"width": 151, "height": 14, "view": {"stroke": null}, "data": {"values": [{"k": "(c)", "v": "128 BPM"}]},
       "layer": [
        {"mark": {"type": "text", "font": "Liberation Serif", "fontSize": 12.5, "fontWeight": "bold", "align": "right", "dx": -18}, "encoding": {"text": {"field": "k"}}},
        {"mark": {"type": "text", "font": "Liberation Serif", "fontSize": 12.5, "align": "left", "dx": -15}, "encoding": {"text": {"field": "v"}}}
       ]}
    ]},
    {"spacing": 2, "vconcat": [
      {"title": "ID: P53010, Measurement: 4, Reference: NG BPM", "width": 151, "height": 84, "data": {"name": "p4"},
       "encoding": {"x": {"field": "t", "type": "quantitative", "title": "Time (s)", "scale": {"domain": [31, 40], "nice": false, "zero": false}, "axis": {"values": [31, 32, 33, 34, 35, 36, 37, 38, 39, 40]}}},
       "layer": [
        {"mark": "area", "encoding": {"y": {"field": "c", "type": "quantitative", "title": "S(t)", "scale": {"domain": [-0.8, 0.6], "nice": false}, "axis": {"values": [-0.8, -0.6, -0.4, -0.2, 0, 0.2, 0.4, 0.6]}}, "y2": {"field": "d"}}},
        {"mark": "rule", "encoding": {"y": {"field": "h", "type": "quantitative", "title": "S(t)", "scale": {"domain": [-0.8, 0.6], "nice": false}, "axis": {"values": [-0.8, -0.6, -0.4, -0.2, 0, 0.2, 0.4, 0.6]}}, "y2": {"field": "l"}}}
       ]},
      {"width": 151, "height": 14, "view": {"stroke": null}, "data": {"values": [{"k": "(d)", "v": "Not given"}]},
       "layer": [
        {"mark": {"type": "text", "font": "Liberation Serif", "fontSize": 12.5, "fontWeight": "bold", "align": "right", "dx": -18}, "encoding": {"text": {"field": "k"}}},
        {"mark": {"type": "text", "font": "Liberation Serif", "fontSize": 12.5, "align": "left", "dx": -15}, "encoding": {"text": {"field": "v"}}}
       ]}
    ]},
    {"spacing": 2, "vconcat": [
      {"title": "ID: P53010, Measurement: 5, Reference: NG BPM", "width": 151, "height": 84, "data": {"name": "p5"},
       "encoding": {"x": {"field": "t", "type": "quantitative", "title": "Time (s)", "scale": {"domain": [41, 50], "nice": false, "zero": false}, "axis": {"values": [41, 42, 43, 44, 45, 46, 47, 48, 49, 50]}}},
       "layer": [
        {"mark": "area", "encoding": {"y": {"field": "c", "type": "quantitative", "title": "S(t)", "scale": {"domain": [-0.8, 0.8], "nice": false}, "axis": {"values": [-0.8, -0.6, -0.4, -0.2, 0, 0.2, 0.4, 0.6, 0.8]}}, "y2": {"field": "d"}}},
        {"mark": "rule", "encoding": {"y": {"field": "h", "type": "quantitative", "title": "S(t)", "scale": {"domain": [-0.8, 0.8], "nice": false}, "axis": {"values": [-0.8, -0.6, -0.4, -0.2, 0, 0.2, 0.4, 0.6, 0.8]}}, "y2": {"field": "l"}}}
       ]},
      {"width": 151, "height": 14, "view": {"stroke": null}, "data": {"values": [{"k": "(e)", "v": "Not given"}]},
       "layer": [
        {"mark": {"type": "text", "font": "Liberation Serif", "fontSize": 12.5, "fontWeight": "bold", "align": "right", "dx": -18}, "encoding": {"text": {"field": "k"}}},
        {"mark": {"type": "text", "font": "Liberation Serif", "fontSize": 12.5, "align": "left", "dx": -15}, "encoding": {"text": {"field": "v"}}}
       ]}
    ]},
    {"spacing": 2, "vconcat": [
      {"title": "ID: P53010, Measurement: 6, Reference: NG BPM", "width": 151, "height": 84, "data": {"name": "p6"},
       "encoding": {"x": {"field": "t", "type": "quantitative", "title": "Time (s)", "scale": {"domain": [51, 60], "nice": false, "zero": false}, "axis": {"values": [51, 52, 53, 54, 55, 56, 57, 58, 59, 60]}}},
       "layer": [
        {"mark": "area", "encoding": {"y": {"field": "c", "type": "quantitative", "title": "S(t)", "scale": {"domain": [-0.8, 0.8], "nice": false}, "axis": {"values": [-0.8, -0.6, -0.4, -0.2, 0, 0.2, 0.4, 0.6, 0.8]}}, "y2": {"field": "d"}}},
        {"mark": "rule", "encoding": {"y": {"field": "h", "type": "quantitative", "title": "S(t)", "scale": {"domain": [-0.8, 0.8], "nice": false}, "axis": {"values": [-0.8, -0.6, -0.4, -0.2, 0, 0.2, 0.4, 0.6, 0.8]}}, "y2": {"field": "l"}}}
       ]},
      {"width": 151, "height": 14, "view": {"stroke": null}, "data": {"values": [{"k": "(f)", "v": "Not given"}]},
       "layer": [
        {"mark": {"type": "text", "font": "Liberation Serif", "fontSize": 12.5, "fontWeight": "bold", "align": "right", "dx": -18}, "encoding": {"text": {"field": "k"}}},
        {"mark": {"type": "text", "font": "Liberation Serif", "fontSize": 12.5, "align": "left", "dx": -15}, "encoding": {"text": {"field": "v"}}}
       ]}
    ]},
    {"spacing": 2, "vconcat": [
      {"title": "ID: P53010, Measurement: 7, Reference: 126 BPM", "width": 151, "height": 84, "data": {"name": "p7"},
       "encoding": {"x": {"field": "t", "type": "quantitative", "title": "Time (s)", "scale": {"domain": [61, 70], "nice": false, "zero": false}, "axis": {"values": [61, 62, 63, 64, 65, 66, 67, 68, 69, 70]}}},
       "layer": [
        {"mark": "area", "encoding": {"y": {"field": "c", "type": "quantitative", "title": "S(t)", "scale": {"domain": [-0.6, 0.6], "nice": false}, "axis": {"values": [-0.6, -0.4, -0.2, 0, 0.2, 0.4, 0.6]}}, "y2": {"field": "d"}}},
        {"mark": "rule", "encoding": {"y": {"field": "h", "type": "quantitative", "title": "S(t)", "scale": {"domain": [-0.6, 0.6], "nice": false}, "axis": {"values": [-0.6, -0.4, -0.2, 0, 0.2, 0.4, 0.6]}}, "y2": {"field": "l"}}}
       ]},
      {"width": 151, "height": 14, "view": {"stroke": null}, "data": {"values": [{"k": "(g)", "v": "126 BPM"}]},
       "layer": [
        {"mark": {"type": "text", "font": "Liberation Serif", "fontSize": 12.5, "fontWeight": "bold", "align": "right", "dx": -18}, "encoding": {"text": {"field": "k"}}},
        {"mark": {"type": "text", "font": "Liberation Serif", "fontSize": 12.5, "align": "left", "dx": -15}, "encoding": {"text": {"field": "v"}}}
       ]}
    ]},
    {"spacing": 2, "vconcat": [
      {"title": "ID: P53010, Measurement: 8, Reference: 132 BPM", "width": 151, "height": 84, "data": {"name": "p8"},
       "encoding": {"x": {"field": "t", "type": "quantitative", "title": "Time (s)", "scale": {"domain": [71, 80], "nice": false, "zero": false}, "axis": {"values": [71, 72, 73, 74, 75, 76, 77, 78, 79, 80]}}},
       "layer": [
        {"mark": "area", "encoding": {"y": {"field": "c", "type": "quantitative", "title": "S(t)", "scale": {"domain": [-0.5, 0.5], "nice": false}, "axis": {"values": [-0.5, -0.4, -0.3, -0.2, -0.1, 0, 0.1, 0.2, 0.3, 0.4, 0.5]}}, "y2": {"field": "d"}}},
        {"mark": "rule", "encoding": {"y": {"field": "h", "type": "quantitative", "title": "S(t)", "scale": {"domain": [-0.5, 0.5], "nice": false}, "axis": {"values": [-0.5, -0.4, -0.3, -0.2, -0.1, 0, 0.1, 0.2, 0.3, 0.4, 0.5]}}, "y2": {"field": "l"}}}
       ]},
      {"width": 151, "height": 14, "view": {"stroke": null}, "data": {"values": [{"k": "(h)", "v": "132 BPM"}]},
       "layer": [
        {"mark": {"type": "text", "font": "Liberation Serif", "fontSize": 12.5, "fontWeight": "bold", "align": "right", "dx": -18}, "encoding": {"text": {"field": "k"}}},
        {"mark": {"type": "text", "font": "Liberation Serif", "fontSize": 12.5, "align": "left", "dx": -15}, "encoding": {"text": {"field": "v"}}}
       ]}
    ]},
    {"spacing": 2, "vconcat": [
      {"title": "ID: P53010, Measurement: 9, Reference: 138 BPM", "width": 151, "height": 84, "data": {"name": "p9"},
       "encoding": {"x": {"field": "t", "type": "quantitative", "title": "Time (s)", "scale": {"domain": [81, 90], "nice": false, "zero": false}, "axis": {"values": [81, 82, 83, 84, 85, 86, 87, 88, 89, 90]}}},
       "layer": [
        {"mark": "area", "encoding": {"y": {"field": "c", "type": "quantitative", "title": "S(t)", "scale": {"domain": [-0.6, 0.6], "nice": false}, "axis": {"values": [-0.6, -0.4, -0.2, 0, 0.2, 0.4, 0.6]}}, "y2": {"field": "d"}}},
        {"mark": "rule", "encoding": {"y": {"field": "h", "type": "quantitative", "title": "S(t)", "scale": {"domain": [-0.6, 0.6], "nice": false}, "axis": {"values": [-0.6, -0.4, -0.2, 0, 0.2, 0.4, 0.6]}}, "y2": {"field": "l"}}}
       ]},
      {"width": 151, "height": 14, "view": {"stroke": null}, "data": {"values": [{"k": "(i)", "v": "138 BPM"}]},
       "layer": [
        {"mark": {"type": "text", "font": "Liberation Serif", "fontSize": 12.5, "fontWeight": "bold", "align": "right", "dx": -18}, "encoding": {"text": {"field": "k"}}},
        {"mark": {"type": "text", "font": "Liberation Serif", "fontSize": 12.5, "align": "left", "dx": -15}, "encoding": {"text": {"field": "v"}}}
       ]}
    ]}
  ]
}
